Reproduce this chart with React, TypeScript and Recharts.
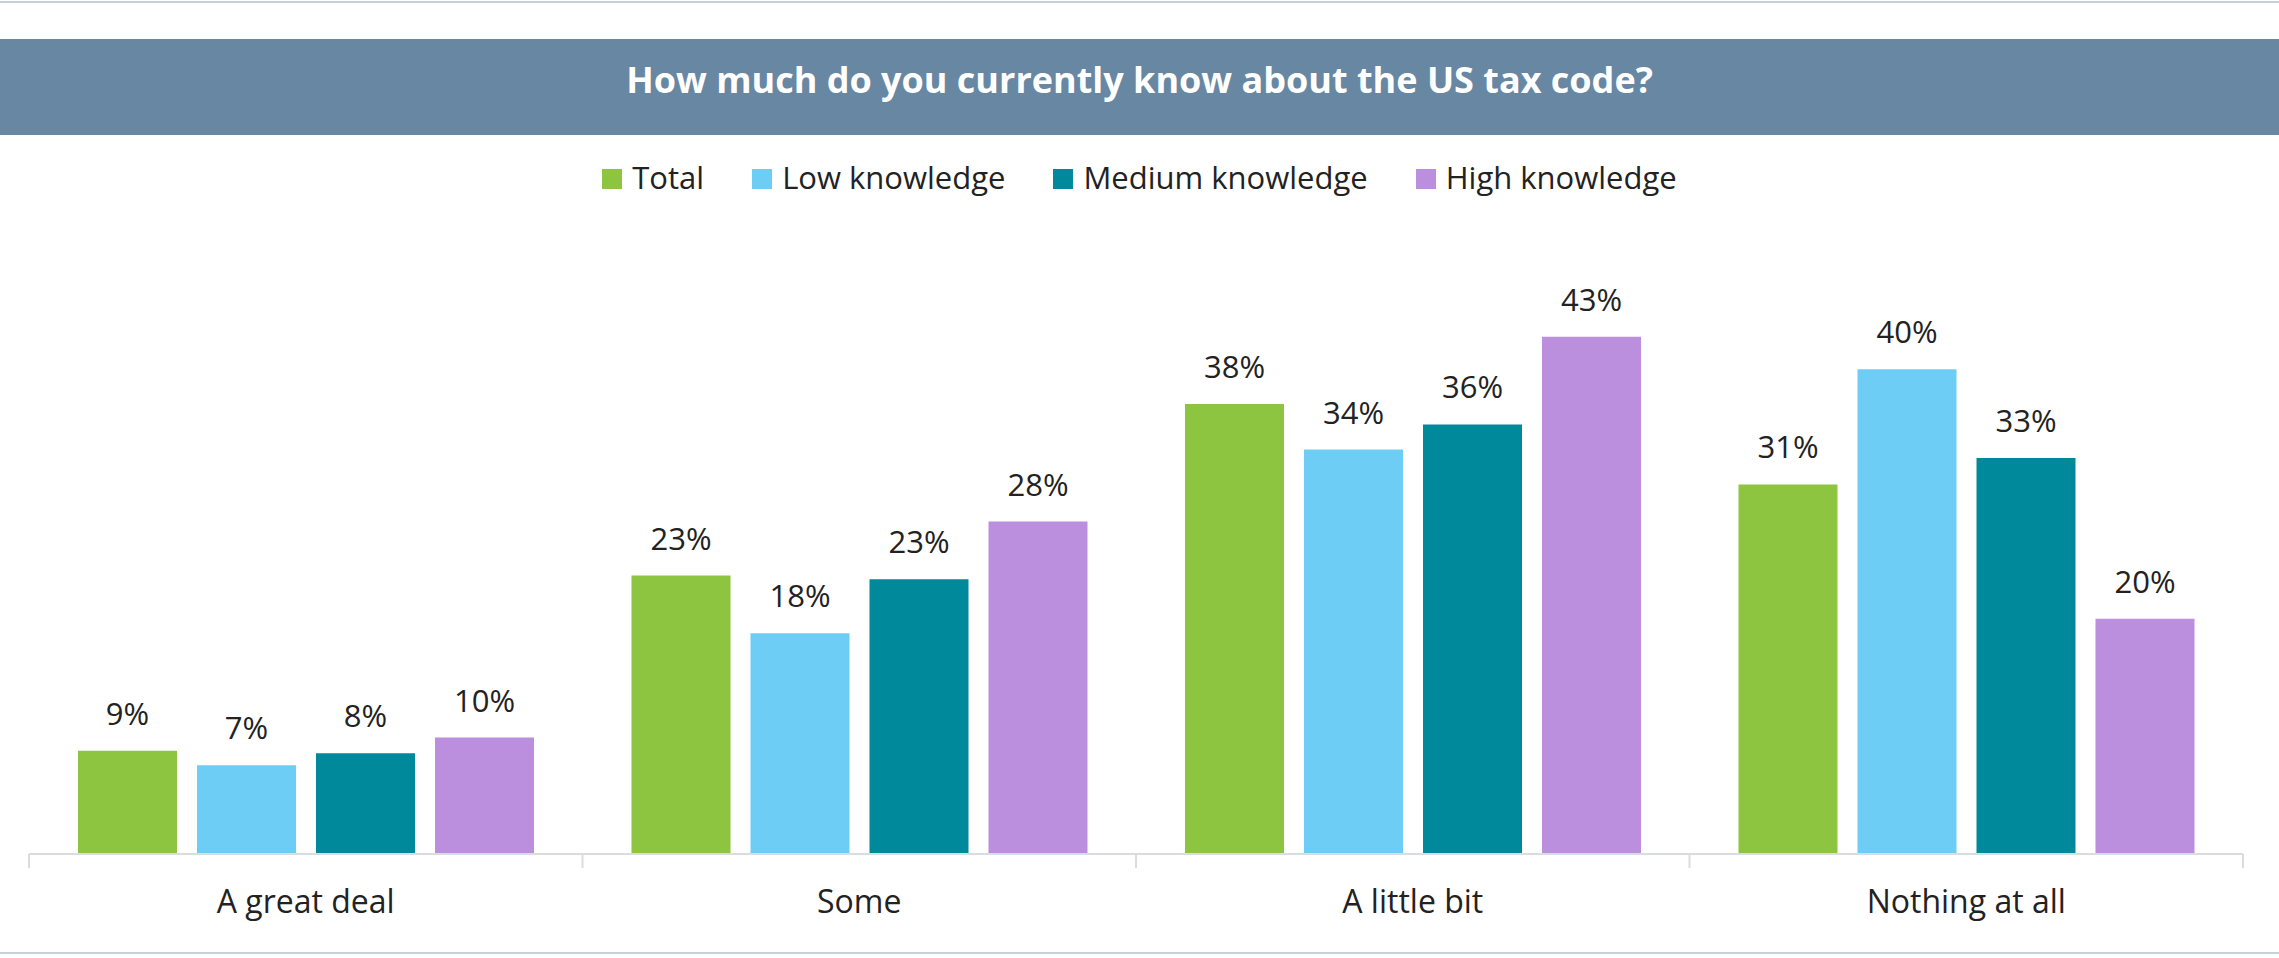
import { Bar, BarChart, LabelList, Legend, XAxis, YAxis } from "recharts"

const categories = ["A great deal", "Some", "A little bit", "Nothing at all"]
// values; labels show them rounded
const total = [8.6, 23.2, 37.5, 30.8]
const lowKnowledge = [7.4, 18.4, 33.7, 40.4]
const mediumKnowledge = [8.4, 22.9, 35.8, 33.0]
const highKnowledge = [9.7, 27.7, 43.1, 19.6]

const seriesNames = ["Total", "Low knowledge", "Medium knowledge", "High knowledge"]
const seriesKeys = ["total", "low", "medium", "high"]
const seriesColors = ["#8dc540", "#6dcdf5", "#00899b", "#bb8fdd"]

const data = categories.map((name, i) => ({
  name,
  total: total[i],
  low: lowKnowledge[i],
  medium: mediumKnowledge[i],
  high: highKnowledge[i],
}))

const W = 2279
const H = 958
const MARGIN = { top: 254, right: 36, bottom: 44, left: 29 }
const BAND = (W - MARGIN.left - MARGIN.right) / categories.length
const FONT = "'Open Sans', 'Noto Sans', sans-serif"
const TEXT = "#222222"
const AXIS = "#d9dde1"

const CategoryTick = (props: any) => {
  const { x, y, payload, index } = props
  const half = BAND / 2
  return (
    <g>
      <line x1={x - half} y1={y} x2={x - half} y2={y + 14} stroke={AXIS} strokeWidth={2} />
      {index === categories.length - 1 && (
        <line x1={x + half} y1={y} x2={x + half} y2={y + 14} stroke={AXIS} strokeWidth={2} />
      )}
      <text x={x} y={y + 59} textAnchor="middle" fill={TEXT} fontSize={32} fontFamily={FONT}>
        {payload.value}
      </text>
    </g>
  )
}

const LegendContent = () => (
  <div style={{ display: "flex", justifyContent: "center", alignItems: "center", gap: 48 }}>
    {seriesNames.map((name, i) => (
      <div key={name} style={{ display: "flex", alignItems: "center" }}>
        <span style={{ width: 20, height: 20, background: seriesColors[i], marginRight: 10, display: "inline-block" }} />
        <span
          style={{ fontSize: 31, color: TEXT, fontFamily: FONT, lineHeight: "40px", position: "relative", top: -2 }}
        >
          {name}
        </span>
      </div>
    ))}
  </div>
)

export default function App() {
  return (
    <div style={{ position: "absolute", top: 0, left: 0, width: W, height: H, background: "#fff", fontFamily: FONT }}>
      <div style={{ position: "absolute", top: 1, left: 0, width: W, height: 2, background: "#c6d0d8" }} />
      <div
        style={{
          position: "absolute",
          top: 39,
          left: 0,
          width: W,
          height: 96,
          background: "#6787a3",
          color: "#fff",
          fontWeight: 700,
          fontSize: 36,
          lineHeight: "82px",
          textAlign: "center",
        }}
      >
        How much do you currently know about the US tax code?
      </div>
      <div style={{ position: "absolute", top: 0, left: 0 }}>
        <BarChart width={W} height={H} data={data} margin={MARGIN} barGap={20} barCategoryGap={49}>
          <XAxis
            dataKey="name"
            axisLine={{ stroke: AXIS, strokeWidth: 2 }}
            tickLine={false}
            tickSize={0}
            tickMargin={0}
            height={60}
            interval={0}
            tick={<CategoryTick />}
          />
          <YAxis hide domain={[0, 50]} />
          <Legend
            verticalAlign="middle"
            align="center"
            wrapperStyle={{ top: 159, left: 0, width: W }}
            content={<LegendContent />}
          />
          {seriesKeys.map((key, i) => (
            <Bar key={key} dataKey={key} name={seriesNames[i]} fill={seriesColors[i]} isAnimationActive={false}>
              <LabelList
                dataKey={key}
                position="top"
                offset={26}
                formatter={(v: any) => `${Math.round(Number(v))}%`}
                fill={TEXT}
                fontSize={31}
                fontFamily={FONT}
              />
            </Bar>
          ))}
        </BarChart>
      </div>
      <div style={{ position: "absolute", top: 952, left: 0, width: W, height: 2, background: "#c6d0d8" }} />
    </div>
  )
}
